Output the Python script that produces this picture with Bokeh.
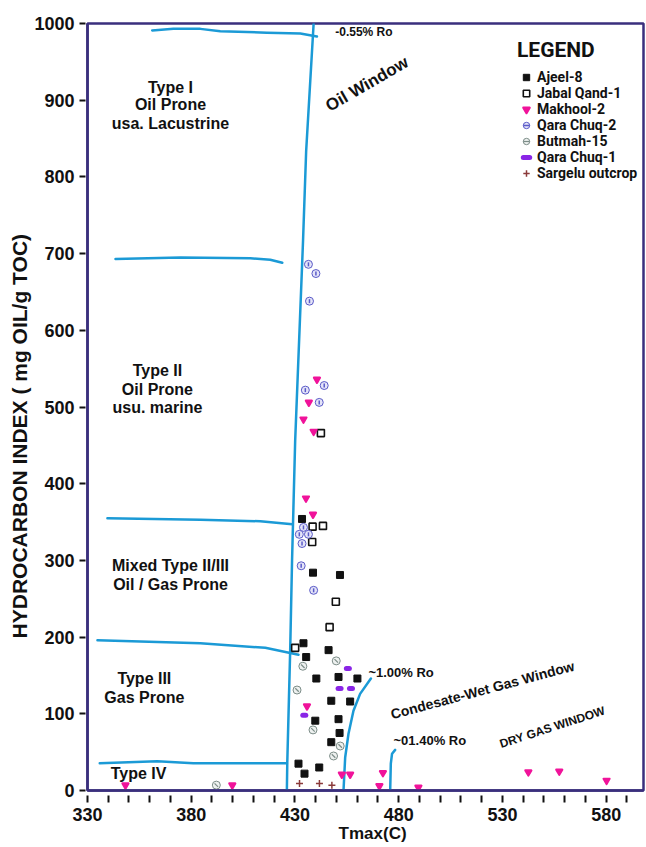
import math
from bokeh.plotting import figure
from bokeh.models import Label, Legend, LegendItem, FixedTicker, Range1d
from bokeh.embed import file_html
from bokeh.resources import INLINE

# ---------------- data (Tmax in C, HI in mg oil / g TOC) ----------------
ajeel_tmax = [433.4, 438.7, 451.7, 434.1, 435.4, 446.2, 440.3, 451.0, 460.1, 447.5,
              456.6, 439.8, 451.0, 451.5, 447.5, 431.7, 434.6, 441.7]
ajeel_hi = [354, 284, 281, 192, 174, 183, 146, 148, 146, 117,
            116, 91, 93, 75, 63, 35, 22, 30]

jabal_tmax = [442.5, 438.5, 443.5, 438.3, 449.7, 446.7, 430.1]
jabal_hi = [466, 344, 345, 324, 246, 213, 186]

makhool_tmax = [440.6, 436.7, 434.1, 439.0, 435.3, 438.7, 435.8, 452.6, 456.6, 472.4,
                470.7, 489.5, 542.5, 557.4, 580.2, 348.3, 399.8]
makhool_hi = [536, 506, 484, 468, 381, 360, 110, 21, 21, 23,
              6, 4, 24, 25, 13, 7, 7]

qc2_tmax = [436.5, 440.1, 437.0, 444.1, 435.0, 441.7, 434.1, 432.1, 436.5, 433.4, 433.0, 439.0]
qc2_hi = [686, 674, 638, 528, 522, 506, 343, 334, 334, 322, 293, 261]

butmah_tmax = [433.8, 449.9, 431.0, 438.7, 451.8, 448.6, 392.1]
butmah_hi = [162, 169, 131, 79, 58, 45, 7]

qc1_tmax = [455.5, 451.5, 457.0, 434.5]
qc1_hi = [159, 133, 133, 98]

sargelu_tmax = [432.2, 441.8, 447.8]
sargelu_hi = [9, 9, 7]

# boundary curves
oil_window_x = [439.0, 435.4, 433.9, 430.1, 428.6, 427.7, 426.3, 426.1]
oil_window_y = [1000, 834, 717, 456, 300, 183, 37, 0]
type1_top_x = [361.2, 371.4, 384.4, 394.0, 416.5, 432.6, 440.6]
type1_top_y = [991, 993, 993, 990, 988, 987, 983]
type1_2_x = [343.5, 374.8, 408.5, 418.1, 423.9]
type1_2_y = [693, 695, 694, 692, 688]
type2_mixed_x = [339.6, 384.4, 413.3, 428.7]
type2_mixed_y = [355, 353, 351, 347]
mixed_3_x = [334.8, 384.4, 415.7, 431.7]
mixed_3_y = [196, 192, 186, 177]
type3_4_x = [335.9, 363.6, 381.0, 426.1]
type3_4_y = [35.6, 38.2, 35.6, 35.6]
ro100_x = [453.4, 454.2, 455.8, 458.2, 461.4, 466.6]
ro100_y = [0, 43, 74, 104, 126, 146]
ro140_x = [475.9, 476.2, 476.8, 478.3]
ro140_y = [0, 35, 48, 53]

x_major = [330, 380, 430, 480, 530, 580]
x_minor = [340, 350, 360, 370, 390, 400, 410, 420, 440, 450, 460, 470, 490, 500,
           510, 520, 540, 550, 560, 570, 590]
y_major = [0, 100, 200, 300, 400, 500, 600, 700, 800, 900, 1000]

# ---------------- figure ----------------
NAVY = "#3a2f7d"
BLUE = "#1b9ad6"
FONT = "Liberation Sans"
COND = "Roboto"
NB = "\u00a0"

p = figure(width=646, height=847, x_range=Range1d(330, 598), y_range=Range1d(0, 1000),
           output_backend="svg", toolbar_location=None,
           min_border_left=87, min_border_right=3, min_border_top=23, min_border_bottom=57)
p.xgrid.visible = False
p.ygrid.visible = False
p.outline_line_color = NAVY
p.outline_line_width = 2.5
p.outline_line_alpha = 1.0

for ax in (p.xaxis[0], p.yaxis[0]):
    ax.axis_line_color = NAVY
    ax.axis_line_width = 2.5
    ax.major_tick_line_color = "#111111"
    ax.major_tick_line_width = 2
    ax.major_label_text_font = FONT
    ax.major_label_text_font_style = "bold"
    ax.major_label_text_font_size = "18px"
    ax.major_label_text_color = "#111111"
    ax.axis_label_text_font = FONT
    ax.axis_label_text_font_style = "bold"
    ax.axis_label_text_color = "#111111"

p.xaxis.ticker = FixedTicker(ticks=x_major, minor_ticks=x_minor)
p.xaxis.major_tick_in = -5
p.xaxis.major_tick_out = 12
p.xaxis.minor_tick_in = -5
p.xaxis.minor_tick_out = 12
p.xaxis.minor_tick_line_color = "#111111"
p.xaxis.minor_tick_line_width = 2
p.xaxis.major_label_standoff = 5
p.xaxis.axis_label = NB * 3 + "Tmax(C)"
p.xaxis.axis_label_text_font_size = "17px"
p.xaxis.axis_label_standoff = 0

p.yaxis.ticker = FixedTicker(ticks=y_major)
p.yaxis.major_tick_in = -2
p.yaxis.major_tick_out = 8
p.yaxis.minor_tick_line_color = None
p.yaxis.major_label_standoff = 5
p.yaxis.axis_label = "HYDROCARBON INDEX ( mg OIL/g TOC)" + NB * 10
p.yaxis.axis_label_text_font_size = "21px"
p.yaxis.axis_label_standoff = 0

# boundary lines
for xs, ys in [(oil_window_x, oil_window_y), (type1_top_x, type1_top_y), (type1_2_x, type1_2_y),
               (type2_mixed_x, type2_mixed_y), (mixed_3_x, mixed_3_y), (type3_4_x, type3_4_y),
               (ro100_x, ro100_y), (ro140_x, ro140_y)]:
    p.line(xs, ys, line_color=BLUE, line_width=2.5, line_join="round", line_cap="round")

# data series
r_ajeel = p.scatter(ajeel_tmax, ajeel_hi, marker="square", size=7, fill_color="#111111",
                    line_color="#111111")
r_jabal = p.scatter(jabal_tmax, jabal_hi, marker="square", size=7, fill_color="white",
                    line_color="#111111", line_width=1.6)
r_makhool = p.scatter(makhool_tmax, makhool_hi, marker="inverted_triangle", size=6,
                      fill_color="#f0139a", line_color="#f0139a", line_width=2.2, line_join="round")
r_qc2a = p.scatter(qc2_tmax, qc2_hi, marker="circle", size=8, fill_color="#e4e4f8",
                   line_color="#5a5ac8", line_width=1)
r_qc2b = p.scatter(qc2_tmax, qc2_hi, marker="dash", size=4, angle=math.pi / 2,
                   line_color="#5a5ac8", line_width=1.5)
r_but_a = p.scatter(butmah_tmax, butmah_hi, marker="circle", size=8, fill_color="#eef1f0",
                    line_color="#7c8d88", line_width=1)
r_but_b = p.scatter(butmah_tmax, butmah_hi, marker="dash", size=5, angle=-math.pi / 4,
                    line_color="#7c8d88", line_width=1.2)
r_qc1 = p.scatter(qc1_tmax, qc1_hi, marker="dash", size=3, line_color="#8a25e6",
                  line_width=5, line_cap="round")
r_sarg = p.scatter(sargelu_tmax, sargelu_hi, marker="cross", size=7, line_color="#8b3a3a",
                   line_width=1.5)

legend = Legend(items=[
    LegendItem(label="Ajeel-8", renderers=[r_ajeel]),
    LegendItem(label="Jabal Qand-1", renderers=[r_jabal]),
    LegendItem(label="Makhool-2", renderers=[r_makhool]),
    LegendItem(label="Qara Chuq-2", renderers=[r_qc2a, r_qc2b]),
    LegendItem(label="Butmah-15", renderers=[r_but_a, r_but_b]),
    LegendItem(label="Qara Chuq-1", renderers=[r_qc1]),
    LegendItem(label="Sargelu outcrop", renderers=[r_sarg]),
], location=(430, 609), title="LEGEND")
legend.title_text_font = COND
legend.title_text_font_size = "21px"
legend.title_text_font_style = "bold"
legend.title_text_color = "#111111"
legend.title_standoff = 7
legend.label_text_font = COND
legend.label_text_font_size = "14px"
legend.label_text_font_style = "bold"
legend.label_text_color = "#111111"
legend.glyph_width = 18
legend.glyph_height = 16
legend.label_height = 16
legend.label_standoff = 2
legend.spacing = 0
legend.padding = 0
legend.margin = 0
legend.border_line_color = None
legend.background_fill_alpha = 0
p.add_layout(legend)

# texts
def add_label(x, y, text, size, angle=0.0, align="center", font=FONT, style="bold"):
    p.add_layout(Label(x=x, y=y, text=text, text_font=font, text_font_size=size,
                       text_font_style=style, text_align=align, text_baseline="middle",
                       angle=angle, text_color="#111111"))

add_label(370.0, 917, "Type I", "16px")
add_label(370.0, 894, "Oil Prone", "16px")
add_label(370.0, 869, "usa. Lacustrine", "16px")
add_label(363.7, 548, "Type II", "16px")
add_label(363.7, 523, "Oil Prone", "16px")
add_label(363.7, 499, "usu. marine", "16px")
add_label(370.0, 293, "Mixed Type II/III", "16px")
add_label(370.0, 269, "Oil / Gas Prone", "16px")
add_label(357.4, 146, "Type III", "16px")
add_label(357.4, 121, "Gas Prone", "16px")
add_label(354.6, 22, "Type IV", "16px")

add_label(449.4, 988.7, "-0.55% Ro", "12px", align="left")
add_label(464.7, 921, "Oil Window", "17px", angle=math.radians(30))
add_label(465.4, 153.5, "~1.00% Ro", "13px", align="left")
add_label(520.4, 131, "Condesate-Wet Gas Window", "14px", angle=math.radians(15))
add_label(477.5, 65, "~01.40% Ro", "13px", align="left")
add_label(554.1, 82.5, "DRY GAS WINDOW", "12px", angle=math.radians(18))

open("out.html", "w").write(file_html(p, INLINE))
